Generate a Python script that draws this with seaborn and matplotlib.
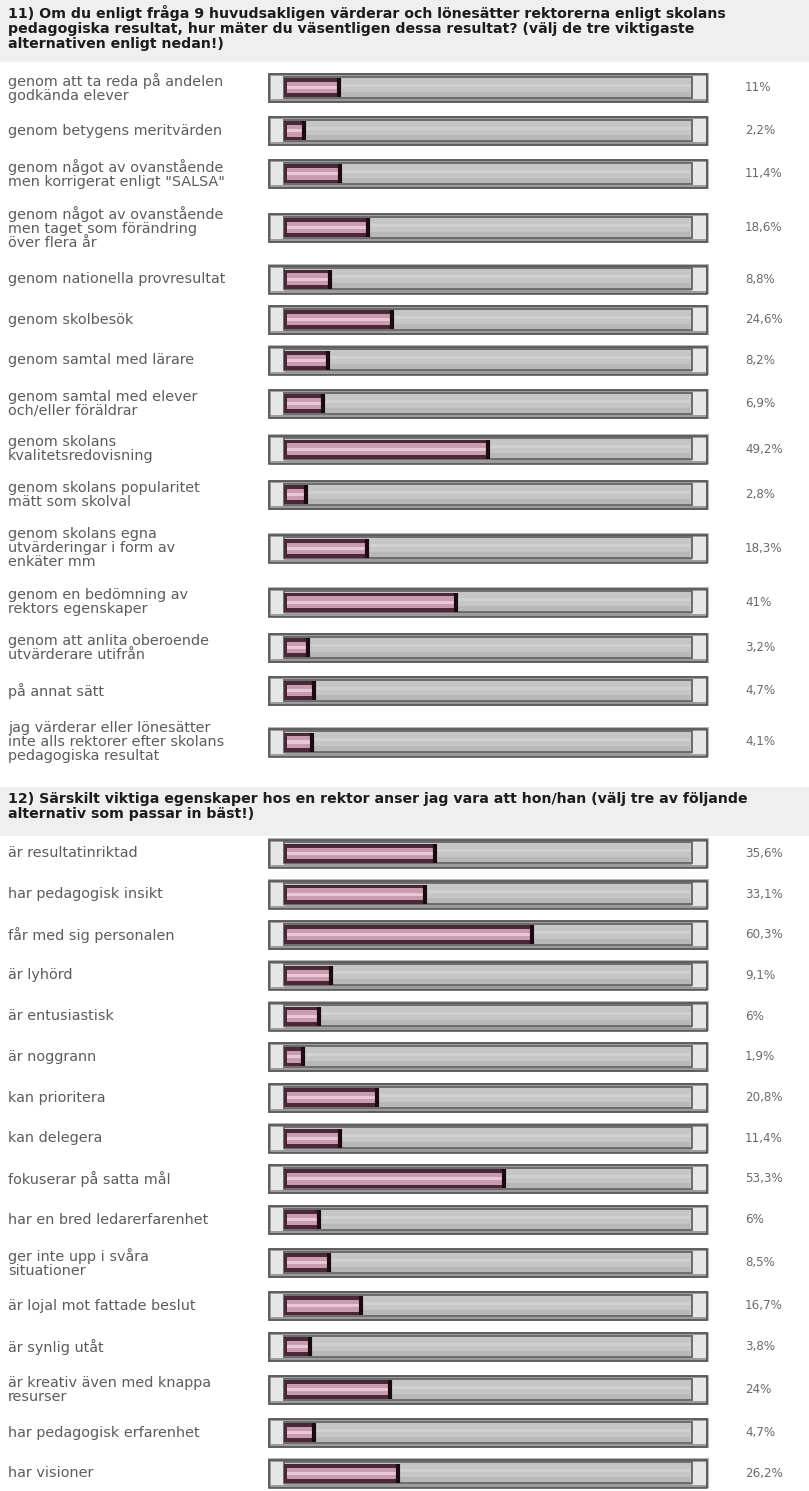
import numpy as np
import matplotlib
matplotlib.use("Agg")
import matplotlib.pyplot as plt
from matplotlib.patches import Rectangle
import seaborn as sns

# Question texts
q11_title = ("11) Om du enligt fråga 9 huvudsakligen värderar och lönesätter rektorerna enligt skolans\n"
             "pedagogiska resultat, hur mäter du väsentligen dessa resultat? (välj de tre viktigaste\n"
             "alternativen enligt nedan!)")
q12_title = ("12) Särskilt viktiga egenskaper hos en rektor anser jag vara att hon/han (välj tre av följande\n"
             "alternativ som passar in bäst!)")

# Answer options and shares (%)
q11_labels = [
    "genom att ta reda på andelen\ngodkända elever",
    "genom betygens meritvärden",
    "genom något av ovanstående\nmen korrigerat enligt \"SALSA\"",
    "genom något av ovanstående\nmen taget som förändring\növer flera år",
    "genom nationella provresultat",
    "genom skolbesök",
    "genom samtal med lärare",
    "genom samtal med elever\noch/eller föräldrar",
    "genom skolans\nkvalitetsredovisning",
    "genom skolans popularitet\nmätt som skolval",
    "genom skolans egna\nutvärderingar i form av\nenkäter mm",
    "genom en bedömning av\nrektors egenskaper",
    "genom att anlita oberoende\nutvärderare utifrån",
    "på annat sätt",
    "jag värderar eller lönesätter\ninte alls rektorer efter skolans\npedagogiska resultat",
]
q11_values = [11, 2.2, 11.4, 18.6, 8.8, 24.6, 8.2, 6.9, 49.2, 2.8, 18.3, 41, 3.2, 4.7, 4.1]

q12_labels = [
    "är resultatinriktad",
    "har pedagogisk insikt",
    "får med sig personalen",
    "är lyhörd",
    "är entusiastisk",
    "är noggrann",
    "kan prioritera",
    "kan delegera",
    "fokuserar på satta mål",
    "har en bred ledarerfarenhet",
    "ger inte upp i svåra\nsituationer",
    "är lojal mot fattade beslut",
    "är synlig utåt",
    "är kreativ även med knappa\nresurser",
    "har pedagogisk erfarenhet",
    "har visioner",
]
q12_values = [35.6, 33.1, 60.3, 9.1, 6, 1.9, 20.8, 11.4, 53.3, 6, 8.5, 16.7, 3.8, 24, 4.7, 26.2]

W, H = 809, 1491
ROW_H = {1: 40.7, 2: 45.5, 3: 62}
CAP = 2.93  # left lip of the bar, in percent units
DARK, PINK, LIGHT = "#4a2837", "#c99cb0", "#e8c8d6"

sns.set_theme(style="white")
plt.rcParams["font.family"] = ["DejaVu Sans"]

fig = plt.figure(figsize=(W / 100, H / 100), dpi=100)
bg = fig.add_axes([0, 0, 1, 1])
bg.set_xlim(0, W)
bg.set_ylim(H, 0)
bg.axis("off")


def fmt(v):
    if float(v).is_integer():
        return f"{int(v)}%"
    return f"{v:.1f}%".replace(".", ",")


def header(y0, y1, text):
    bg.add_patch(Rectangle((0, y0), W, y1 - y0, fc="#efefef", ec="none"))
    bg.text(8, y0 + 5, text, ha="left", va="top", fontsize=10.2, fontweight="bold",
            color="#1c1c1c", linespacing=1.1)


def row(c, label, v):
    # label and percentage
    bg.text(8, c, label, ha="left", va="center", fontsize=10.4, color="#5c5c5c",
            linespacing=1.0)
    bg.text(745, c, fmt(v), ha="left", va="center", fontsize=8.6, color="#6a6a6a")
    # frame of the gauge
    bg.add_patch(Rectangle((268, c - 15), 441, 30, fc="#b4b4b4", ec="none"))
    bg.add_patch(Rectangle((269.5, c - 13.5), 438, 28, fc="#9c9c9c", ec="#4a4a4a", lw=1.1))
    bg.add_patch(Rectangle((271, c - 11.5), 13, 23, fc="#e6e6e6", ec="none"))
    bg.add_patch(Rectangle((692, c - 11.5), 14, 23, fc="#e6e6e6", ec="none"))
    bg.add_patch(Rectangle((284, c - 11), 408, 21, fc="#c6c6c6", ec="#6c6c6c", lw=1.4))
    bg.add_patch(Rectangle((286, c - 4), 404, 3, fc="#d0d0d0", ec="none"))
    bg.add_patch(Rectangle((286, c + 4), 404, 5, fc="#b8b8b8", ec="none"))
    # bar in its own axes (0-100 % scale)
    ax = fig.add_axes([284 / W, 1 - (c + 9.5) / H, 408 / W, 19 / H])
    kw = dict(orient="h", saturation=1, linewidth=0, edgecolor="none", ax=ax)
    sns.barplot(x=[v], y=[0], color=DARK, width=1, **kw)
    ax.barh(0, CAP, left=-CAP, height=1, color=DARK, lw=0)
    sns.barplot(x=[v], y=[0], color=PINK, width=0.6, **kw)
    ax.barh(0, CAP * 0.75, left=-CAP * 0.75, height=0.6, color=PINK, lw=0)
    sns.barplot(x=[v], y=[0], color=LIGHT, width=0.16, **kw)
    ax.barh(0, CAP * 0.75, left=-CAP * 0.75, height=0.16, color=LIGHT, lw=0)
    ax.vlines(v, -0.5, 0.5, color="#1c0a12", lw=3)
    ax.set_xlim(-CAP, 101.15)
    ax.set_ylim(0.5, -0.5)
    ax.axis("off")
    ax.patch.set_alpha(0)


def section(top, labels, values):
    y = top
    for lab, v in zip(labels, values):
        h = ROW_H[lab.count("\n") + 1]
        row(y + h / 2, lab, v)
        y += h
    return y


header(0, 62, q11_title)
section(65, q11_labels, q11_values)
header(787, 836, q12_title)
section(833, q12_labels, q12_values)

fig.savefig("out.png", dpi=100, facecolor="white")
